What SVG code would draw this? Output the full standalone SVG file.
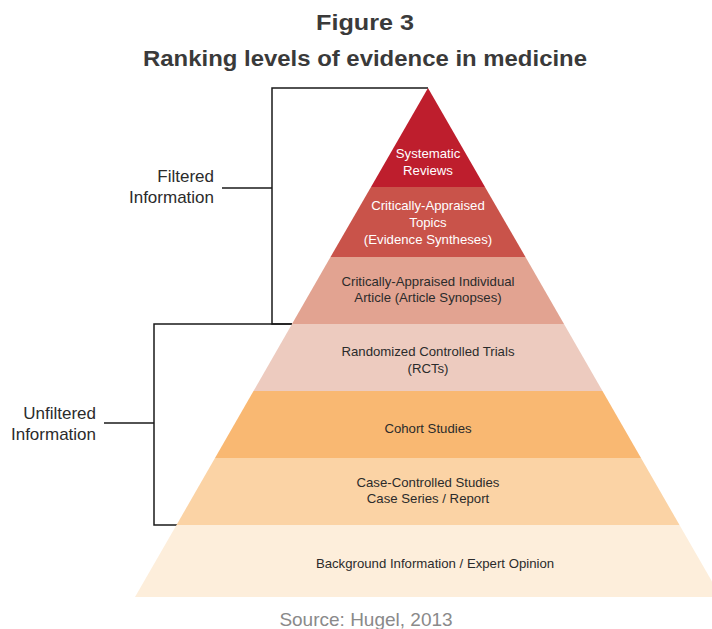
<svg xmlns="http://www.w3.org/2000/svg" width="712" height="629" viewBox="0 0 712 629">
<style>
  .lvl text { font-family: "Liberation Sans", Arial, sans-serif; font-size: 13.2px; text-anchor: middle; }
  .dark { fill: #2b2b2b; }
  .light { fill: #ffffff; }
  .lbl { font-family: "Liberation Sans", Arial, sans-serif; font-size: 17px; fill: #2b2b2b; text-anchor: end; }
  .conn { fill: none; stroke: #1a1a1a; stroke-width: 1.5; }
</style>
<rect width="712" height="629" fill="#ffffff"/>
<g id="title" font-family="'Liberation Sans', Arial, sans-serif" font-weight="bold" fill="#3a3a3a" text-anchor="middle">
  <text x="365" y="30" font-size="22" textLength="98" lengthAdjust="spacingAndGlyphs">Figure 3</text>
  <text x="365" y="66" font-size="22" textLength="444" lengthAdjust="spacingAndGlyphs">Ranking levels of evidence in medicine</text>
</g>
<g id="connectors">
  <polyline class="conn" points="428,88 272,88 272,324 292,324"/>
  <line class="conn" x1="222" y1="188" x2="272" y2="188"/>
  <polyline class="conn" points="292,324 154,324 154,525 177,525"/>
  <line class="conn" x1="104" y1="423" x2="154" y2="423"/>
</g>
<g id="level1" class="lvl">
  <polygon points="428,88 485,187 371,187" fill="#BE1E2D"/>
  <text class="light" x="428" y="158">Systematic</text>
  <text class="light" x="428" y="175">Reviews</text>
</g>
<g id="level2" class="lvl">
  <polygon points="371,187 485,187 525.5,257 330.5,257" fill="#C9534A"/>
  <text class="light" x="428" y="210">Critically-Appraised</text>
  <text class="light" x="428" y="227">Topics</text>
  <text class="light" x="428" y="244">(Evidence Syntheses)</text>
</g>
<g id="level3" class="lvl">
  <polygon points="330.5,257 525.5,257 564,324 292,324" fill="#E2A391"/>
  <text class="dark" x="428" y="286">Critically-Appraised Individual</text>
  <text class="dark" x="428" y="302">Article (Article Synopses)</text>
</g>
<g id="level4" class="lvl">
  <polygon points="292,324 564,324 602.5,391 253.5,391" fill="#EDCBBF"/>
  <text class="dark" x="428" y="356">Randomized Controlled Trials</text>
  <text class="dark" x="428" y="373">(RCTs)</text>
</g>
<g id="level5" class="lvl">
  <polygon points="253.5,391 602.5,391 641,458 215,458" fill="#F9B872"/>
  <text class="dark" x="428" y="433">Cohort Studies</text>
</g>
<g id="level6" class="lvl">
  <polygon points="215,458 641,458 679.5,525 176.5,525" fill="#FBD3A5"/>
  <text class="dark" x="428" y="487">Case-Controlled Studies</text>
  <text class="dark" x="428" y="503">Case Series / Report</text>
</g>
<g id="level7" class="lvl">
  <polygon points="176.5,525 679.5,525 721,597 135,597" fill="#FDEEDB"/>
  <text class="dark" x="435" y="568">Background Information / Expert Opinion</text>
</g>
<g id="filtered">
  <text class="lbl" x="214" y="182">Filtered</text>
  <text class="lbl" x="214" y="203">Information</text>
</g>
<g id="unfiltered">
  <text class="lbl" x="96" y="419">Unfiltered</text>
  <text class="lbl" x="96" y="440">Information</text>
</g>
<text x="366" y="626" font-family="'Liberation Sans', Arial, sans-serif" font-size="19" fill="#8a8a8a" text-anchor="middle">Source: Hugel, 2013</text>
</svg>
